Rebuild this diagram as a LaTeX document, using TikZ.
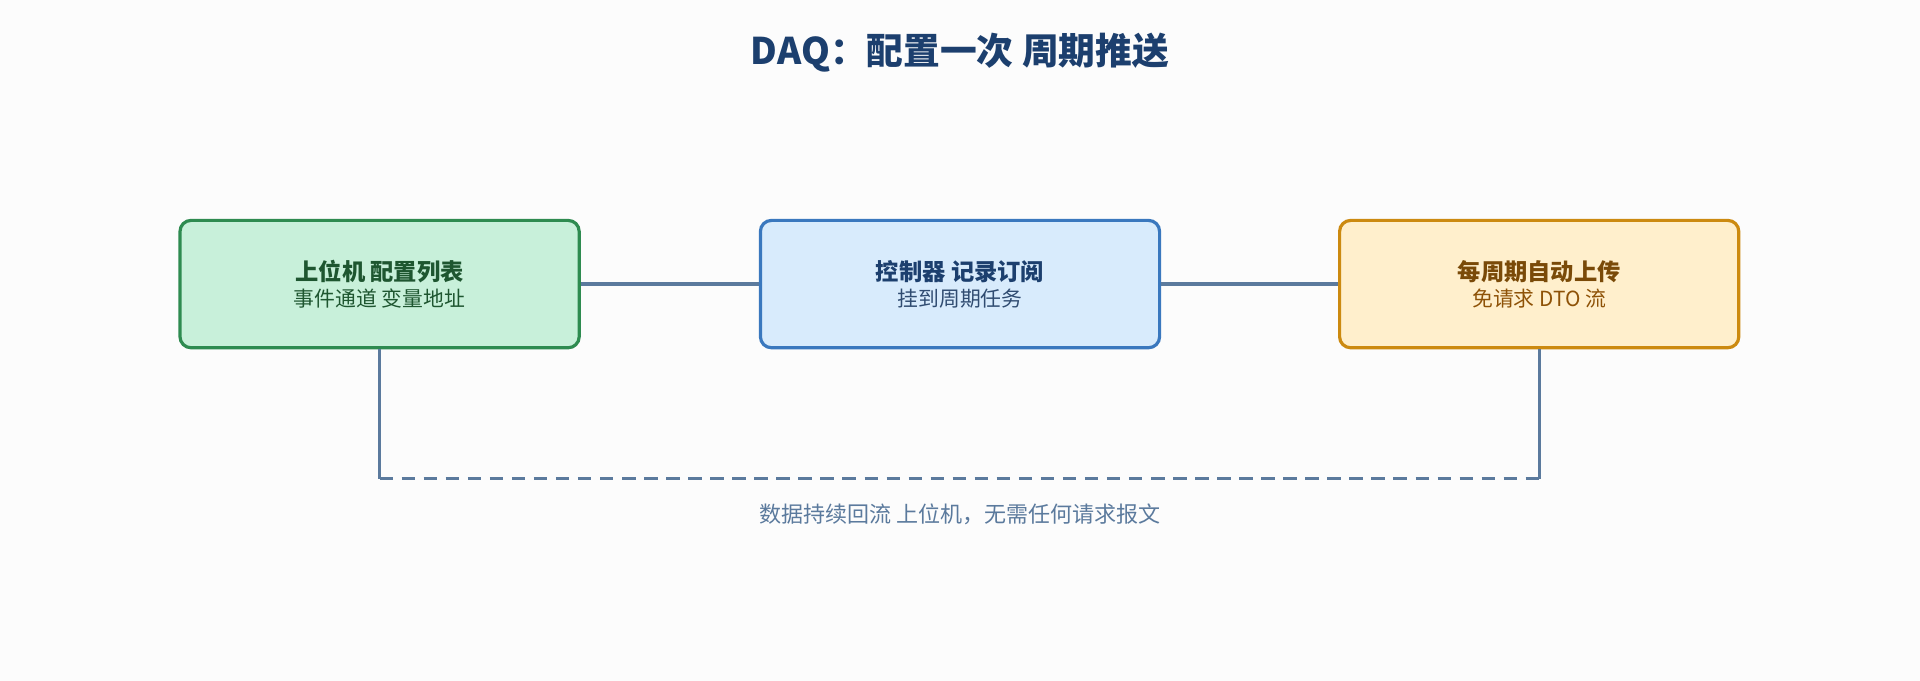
\documentclass[tikz,border=0pt]{standalone}
\usepackage{fontspec}
\setmainfont{Noto Sans CJK SC}
\begin{document}
\begin{tikzpicture}[x=1pt,y=-1pt,
  box/.style={draw, line width=2.6pt, rounded corners=9pt, minimum width=326pt, minimum height=104pt, align=center},
  conn/.style={draw=lnk, line width=2.6pt},
  title/.style={font=\fontsize{19}{22}\selectfont\bfseries},
  sub/.style={font=\fontsize{17}{20}\selectfont}]
\definecolor{lnk}{HTML}{5B7A9D}
\definecolor{gF}{HTML}{C8F0DA}\definecolor{gD}{HTML}{2E8B50}\definecolor{gT}{HTML}{1E5630}
\definecolor{bF}{HTML}{D8EBFC}\definecolor{bD}{HTML}{3A78BE}\definecolor{bT}{HTML}{1C3F6E}
\definecolor{oF}{HTML}{FFEFCC}\definecolor{oD}{HTML}{CC8A10}\definecolor{oT}{HTML}{7A4A08}
\fill[white!98!gray] (0,0) rectangle (1568,556);
\useasboundingbox (0,0) rectangle (1568,556);
\node[font=\fontsize{30}{34}\selectfont\bfseries, text=bT] (t) at (784,43) {DAQ：配置一次 周期推送};
\node[box, draw=gD, fill=gF] (a) at (310,232) {\textcolor{gT}{\fontsize{19}{22}\selectfont\bfseries 上位机 配置列表}\\[4pt]\textcolor{gT}{\fontsize{17}{20}\selectfont 事件通道 变量地址}};
\node[box, draw=bD, fill=bF] (b) at (784,232) {\textcolor{bT}{\fontsize{19}{22}\selectfont\bfseries 控制器 记录订阅}\\[4pt]\textcolor{bT!80!gray}{\fontsize{17}{20}\selectfont 挂到周期任务}};
\node[box, draw=oD, fill=oF] (c) at (1257,232) {\textcolor{oT}{\fontsize{19}{22}\selectfont\bfseries 每周期自动上传}\\[4pt]\textcolor{oT!85!orange}{\fontsize{17}{20}\selectfont 免请求 DTO 流}};
\draw[conn] (a) -- (b);
\draw[conn] (b) -- (c);
\coordinate (p) at (310,391);
\coordinate (q) at (1257,391);
\draw[conn] (a.south) -- (p);
\draw[conn] (c.south) -- (q);
\draw[conn, dash pattern=on 11pt off 7pt] (p) -- (q);
\node[font=\fontsize{18}{21}\selectfont, text=lnk] (l) at (784,420) {数据持续回流 上位机，无需任何请求报文};
\end{tikzpicture}
\end{document}
